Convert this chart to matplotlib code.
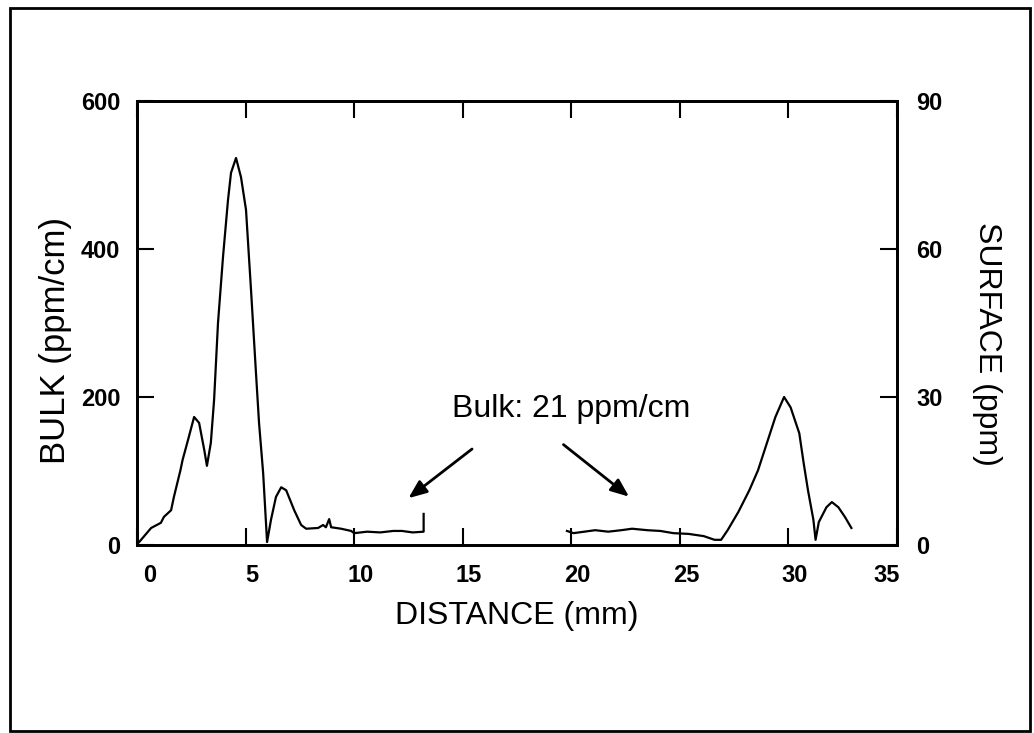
import matplotlib
matplotlib.use("Agg")
import matplotlib.pyplot as plt
import matplotlib.transforms as mtransforms
from matplotlib.patches import Rectangle

plt.rcParams['font.family'] = ['Liberation Sans', 'DejaVu Sans']

# Bulk segment 1 (mm, ppm/cm)
dist_a = [0.1, 0.65, 1.1, 1.24, 1.57, 1.7, 2.0, 2.1, 2.35, 2.63, 2.86, 3.1, 3.22,
          3.4, 3.55, 3.73, 3.96, 4.19, 4.33, 4.56, 4.79, 5.02, 5.25, 5.48, 5.62,
          5.81, 5.99, 6.17, 6.4, 6.64, 6.87, 7.24, 7.56, 7.79, 8.34, 8.57, 8.7,
          8.85, 8.94, 9.4, 9.86, 10.0, 10.6, 11.2, 11.8, 12.2, 12.7, 13.2, 13.2]
bulk_a = [4, 23, 30, 38, 47, 65, 101, 115, 142, 173, 165, 128, 107,
          138, 196, 300, 389, 466, 503, 523, 497, 453, 345, 232, 165,
          97, 4, 34, 65, 78, 74, 47, 27, 22, 23, 27, 24,
          35, 24, 22, 19, 16, 18, 17, 19, 19, 17, 18, 42]

# Bulk segment 2
dist_b = [19.8, 20.1, 20.6, 21.1, 21.7, 22.3, 22.8, 23.5, 24.1, 24.7, 25.4,
          26.1, 26.6, 26.9, 27.2, 27.7, 28.2, 28.6, 29.1, 29.4, 29.8, 30.1,
          30.5, 30.7, 30.9, 31.15, 31.25, 31.4, 31.75, 32.0, 32.3, 32.6, 32.9]
bulk_b = [19, 16, 18, 20, 18, 20, 22, 20, 19, 16, 15,
          12, 7, 7, 20, 45, 74, 101, 146, 173, 200, 186,
          151, 111, 74, 34, 7, 31, 51, 58, 51, 38, 23]

x_ticks = [0, 5, 10, 15, 20, 25, 30, 35]
bulk_ticks = [0, 200, 400, 600]
surface_ticks = [0, 30, 60, 90]

fig = plt.figure(figsize=(10.34, 7.33), dpi=100)
ax = fig.add_axes([137/1034, 1-545/733, (897-137)/1034, (545-101)/733])

ax.plot(dist_a, bulk_a, color='black', lw=1.6)
ax.plot(dist_b, bulk_b, color='black', lw=1.6)

ax.set_xlim(0, 35)
ax.set_ylim(0, 600)
ax.set_xticks(x_ticks)
ax.set_yticks(bulk_ticks)
ax.tick_params(axis='both', direction='in', length=12, width=1.5,
               labelsize=17, top=True)
ax.tick_params(axis='x', pad=14)
ax.tick_params(axis='y', pad=12)
for lab in ax.get_xticklabels() + ax.get_yticklabels():
    lab.set_fontweight('bold')
for s in ax.spines.values():
    s.set_linewidth(2)

# shift x tick labels slightly as in the reference
shifts = {0: 13, 35: -10}
for tick_val, lab in zip(x_ticks, ax.get_xticklabels()):
    dx = shifts.get(tick_val, 6)
    off = mtransforms.ScaledTranslation(dx/100, 0, fig.dpi_scale_trans)
    lab.set_transform(lab.get_transform() + off)

ax2 = ax.twinx()
ax2.set_ylim(0, 90)
ax2.set_yticks(surface_ticks)
ax2.tick_params(axis='y', direction='in', length=12, width=1.5, labelsize=17, pad=14)
for lab in ax2.get_yticklabels():
    lab.set_fontweight('bold')
for s in ax2.spines.values():
    s.set_linewidth(2)

ax.set_xlabel('DISTANCE (mm)', fontsize=23, labelpad=10)
fig.text(56/1034, 1-340/733, 'BULK (ppm/cm)', fontsize=25, rotation=90,
         ha='center', va='center')
fig.text(987/1034, 1-344/733, 'SURFACE (ppm)', fontsize=23, rotation=270,
         ha='center', va='center')

ax.text(20.0, 173, 'Bulk: 21 ppm/cm', fontsize=23, ha='center', va='baseline')
arrow_kw = dict(arrowstyle='-|>,head_length=1.1,head_width=0.45', color='black', lw=2)
ax.annotate('', xy=(12.4, 61), xytext=(15.53, 132), arrowprops=arrow_kw)
ax.annotate('', xy=(22.76, 63), xytext=(19.54, 138), arrowprops=arrow_kw)

fig.patches.append(Rectangle((10/1034, 2/733), 1020/1034, 723/733,
                             transform=fig.transFigure, fill=False,
                             edgecolor='black', lw=2))

fig.savefig('out.png', dpi=100)
